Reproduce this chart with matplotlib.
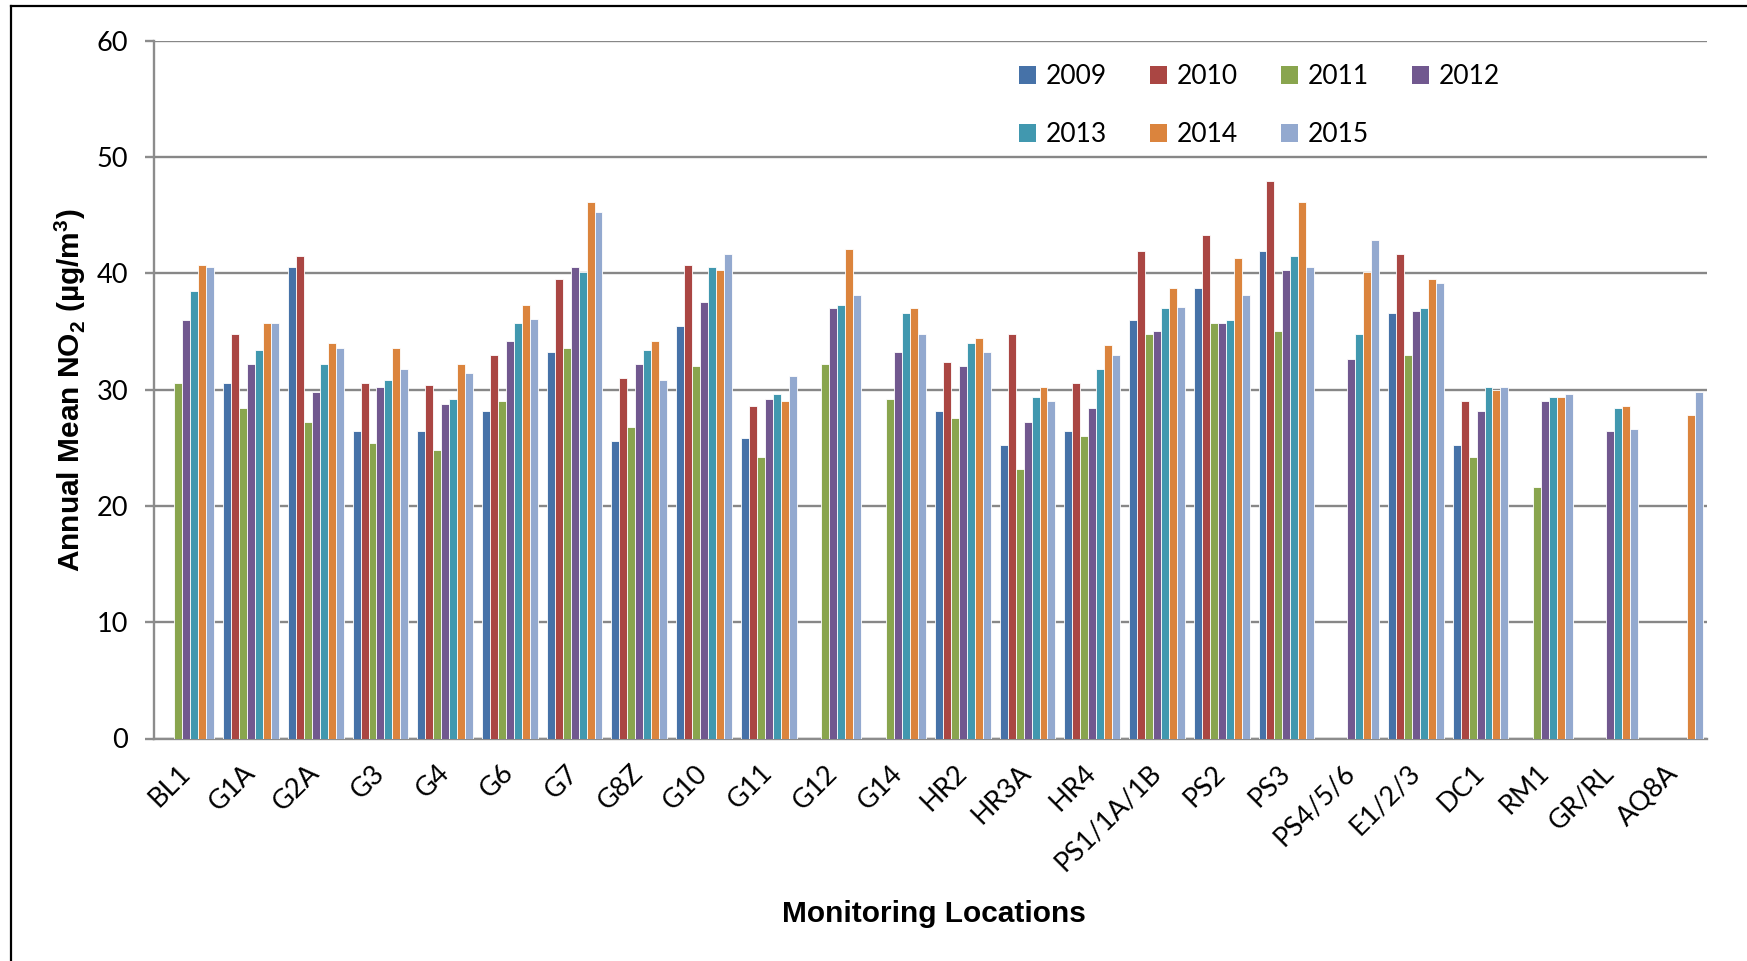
import numpy as np
import matplotlib
matplotlib.use('Agg')
import matplotlib.pyplot as plt
from matplotlib.patches import Patch
from matplotlib.lines import Line2D

nan = np.nan

locations = ['BL1', 'G1A', 'G2A', 'G3', 'G4', 'G6', 'G7', 'G8Z', 'G10', 'G11', 'G12', 'G14',
             'HR2', 'HR3A', 'HR4', 'PS1/1A/1B', 'PS2', 'PS3', 'PS4/5/6', 'E1/2/3', 'DC1',
             'RM1', 'GR/RL', 'AQ8A']
years = ['2009', '2010', '2011', '2012', '2013', '2014', '2015']

no2_2009 = [nan, 30.6, 40.5, 26.4, 26.4, 28.2, 33.2, 25.6, 35.5, 25.8, nan, nan,
            28.2, 25.2, 26.4, 36.0, 38.7, 41.9, nan, 36.6, 25.2, nan, nan, nan]
no2_2010 = [nan, 34.8, 41.5, 30.6, 30.4, 33.0, 39.5, 31.0, 40.7, 28.6, nan, nan,
            32.4, 34.8, 30.6, 41.9, 43.3, 47.9, nan, 41.7, 29.0, nan, nan, nan]
no2_2011 = [30.6, 28.4, 27.2, 25.4, 24.8, 29.0, 33.6, 26.8, 32.0, 24.2, 32.2, 29.2,
            27.6, 23.2, 26.0, 34.8, 35.7, 35.0, nan, 33.0, 24.2, 21.6, nan, nan]
no2_2012 = [36.0, 32.2, 29.8, 30.2, 28.8, 34.2, 40.5, 32.2, 37.5, 29.2, 37.0, 33.2,
            32.0, 27.2, 28.4, 35.0, 35.7, 40.3, 32.6, 36.8, 28.2, 29.0, 26.4, nan]
no2_2013 = [38.5, 33.4, 32.2, 30.8, 29.2, 35.7, 40.1, 33.4, 40.5, 29.6, 37.3, 36.6,
            34.0, 29.4, 31.8, 37.0, 36.0, 41.5, 34.8, 37.0, 30.2, 29.4, 28.4, nan]
no2_2014 = [40.7, 35.7, 34.0, 33.6, 32.2, 37.3, 46.1, 34.2, 40.3, 29.0, 42.1, 37.0,
            34.4, 30.2, 33.8, 38.7, 41.3, 46.1, 40.1, 39.5, 30.0, 29.4, 28.6, 27.8]
no2_2015 = [40.5, 35.7, 33.6, 31.8, 31.4, 36.1, 45.3, 30.8, 41.7, 31.2, 38.1, 34.8,
            33.2, 29.0, 33.0, 37.1, 38.1, 40.5, 42.9, 39.2, 30.2, 29.6, 26.6, 29.8]

series = [no2_2009, no2_2010, no2_2011, no2_2012, no2_2013, no2_2014, no2_2015]
colors = ['#4672A8', '#AA4643', '#89A54E', '#71588F', '#4198AF', '#DB843D', '#93A9CF']

plt.rcParams['font.family'] = ['Lato', 'DejaVu Sans']
plt.rcParams['mathtext.fontset'] = 'custom'
plt.rcParams['mathtext.bf'] = 'Liberation Sans:bold'
plt.rcParams['mathtext.rm'] = 'Liberation Sans:bold'

fig = plt.figure(figsize=(17.47, 9.61), dpi=100)
W, H = 1747, 961
ax = fig.add_axes([154 / W, 1 - 738.5 / H, (1707 - 154) / W, (738.5 - 40.7) / H])

x = np.arange(len(locations))
bw = 0.123
for i, (vals, c) in enumerate(zip(series, colors)):
    ax.bar(x + (i - 3) * bw, vals, width=bw, color=c, edgecolor='white', linewidth=0.6,
           label=years[i], zorder=3)

ax.set_xlim(-0.5, len(locations) - 0.5)
ax.set_ylim(0, 60)
ax.set_yticks(range(0, 61, 10))
ax.grid(axis='y', color='#878787', linewidth=1.7, zorder=0)
ax.set_axisbelow(True)

for s in ['top', 'right']:
    ax.spines[s].set_visible(False)
for s in ['left', 'bottom']:
    ax.spines[s].set_color('#8c8c8c')
    ax.spines[s].set_linewidth(1.7)

ax.tick_params(axis='y', length=6.5, width=1.7, color='#8c8c8c', pad=12, labelsize=19.5)
ax.tick_params(axis='x', length=0, pad=22, labelsize=19.5)
ax.set_xticks(x)
ax.set_xticklabels(locations, rotation=45, ha='right', va='center', rotation_mode='anchor')

fig.text(70 / W, 1 - 390 / H, r'Annual Mean NO$_\mathbf{2}$ (µg/m$^\mathbf{3}$)',
         rotation=90, ha='center', va='center', fontsize=21.5, fontweight='bold',
         family='Liberation Sans')
fig.text(934 / W, 1 - 914 / H, 'Monitoring Locations', ha='center', va='center',
         fontsize=21.5, fontweight='bold', family='Liberation Sans')

# legend filled column by column -> reorder so it reads row by row
handles = [Patch(facecolor=c, edgecolor='none') for c in colors]
order = [0, 4, 1, 5, 2, 6, 3]
fig.legend([handles[i] for i in order], [years[i] for i in order],
           loc='upper left', bbox_to_anchor=(1019 / W, 1 - 64 / H), ncol=4,
           frameon=False, fontsize=19, handlelength=0.65, handleheight=0.65,
           handletextpad=0.36, columnspacing=1.63, labelspacing=1.25,
           borderpad=0, borderaxespad=0)

# outer chart border (top and left visible)
fig.add_artist(Line2D([11 / W, 11 / W], [0, 1 - 5.7 / H], color='black', linewidth=1.6))
fig.add_artist(Line2D([11 / W, 1], [1 - 5.7 / H, 1 - 5.7 / H], color='black', linewidth=1.6))

fig.savefig('out.png', dpi=100)
